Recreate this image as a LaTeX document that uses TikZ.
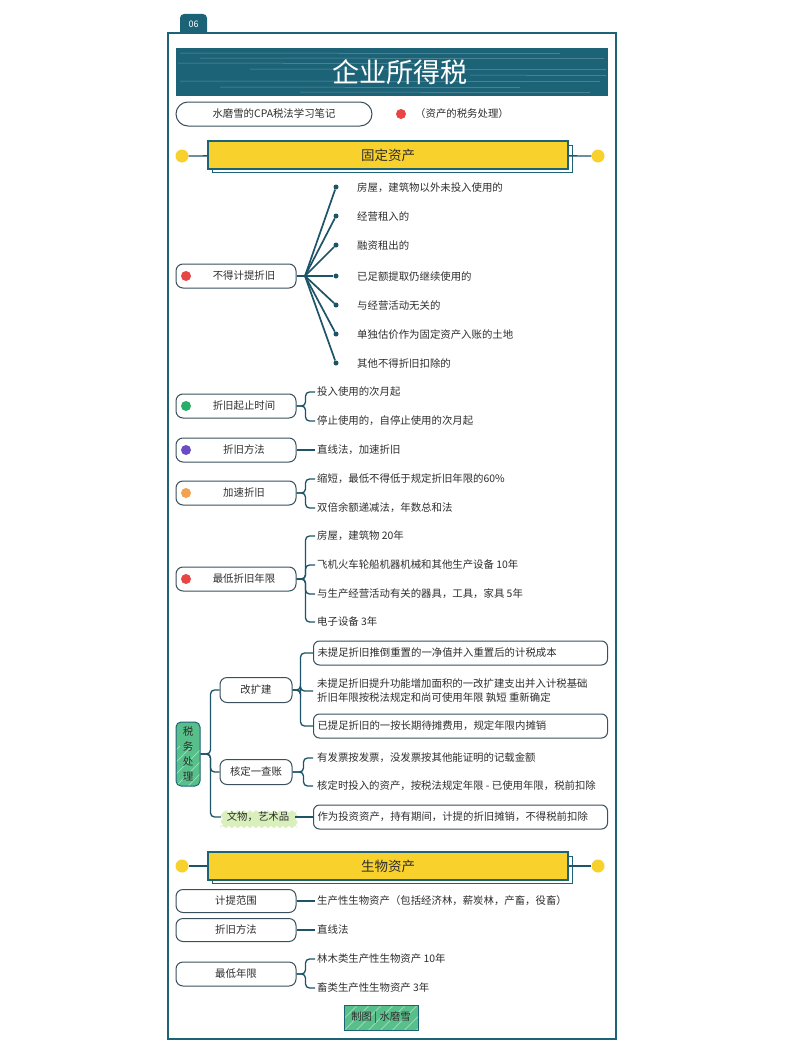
\documentclass[tikz,border=0pt]{standalone}
\usepackage{fontspec}
\setmainfont{Noto Sans CJK SC}
\usetikzlibrary{decorations.pathmorphing}
\definecolor{teal1}{HTML}{1D6377}
\definecolor{conn1}{HTML}{1E5468}
\definecolor{boxl}{HTML}{3A505C}
\definecolor{yellow1}{HTML}{F8D12D}
\definecolor{green1}{HTML}{57C08A}
\definecolor{lgreen}{HTML}{DAF0BC}
\definecolor{red1}{HTML}{E84545}
\definecolor{green2}{HTML}{27AE6A}
\definecolor{purple1}{HTML}{6A4CC4}
\definecolor{orange1}{HTML}{F3A24F}
\definecolor{txt}{HTML}{2E2E2E}
\begin{document}
\begin{tikzpicture}[x=1pt,y=-1pt,
  every node/.style={text=txt, font=\fontsize{10.4}{12}\selectfont},
  box/.style={draw=boxl, line width=1, rounded corners=7, minimum width=120, minimum height=24, inner sep=2},
  sbox/.style={box, minimum width=72, minimum height=25},
  rbox/.style={draw=boxl, line width=1, rounded corners=6, minimum height=24, text width=286, align=left, inner sep=4, anchor=west},
  item/.style={anchor=west, inner sep=2},
  ritem/.style={anchor=west, inner sep=4, align=left},
  conn/.style={draw=conn1, line width=1.3},
  brace/.style={conn, rounded corners=4},
  fan/.style={draw=conn1, line width=1.7},
  fdot/.style={circle, fill=conn1, inner sep=0, minimum size=5},
  cdot/.style={circle, inner sep=0, minimum size=10},
  ydot/.style={circle, fill=yellow1, inner sep=0, minimum size=13},
  sect/.style={fill=yellow1, draw=teal1, line width=1.2, minimum width=360, minimum height=28, font=\fontsize{13.5}{15}\selectfont},
  gbox/.style={fill=green1, draw=teal1, line width=1, path picture={
     \foreach \k in {-60,-48,...,80}{
       \draw[white, opacity=0.45, line width=0.7] ([xshift=\k pt]path picture bounding box.south west) -- ++(40,-40);
     }}}
]
\useasboundingbox[fill=white] (0,0) rectangle (787,1049);

% frame and tab
\fill[teal1] (180,34) {[rounded corners=4] -- (180,14) -- (207,14)} -- (207,34) -- cycle;
\node[text=white, font=\fontsize{9}{10}\selectfont] (tab) at (193.5,24) {06};
\draw[teal1, line width=2] (168,33) rectangle (616,1039);

% title banner
\node[fill=teal1, minimum width=432, minimum height=48, anchor=north west, inner sep=0] (title) at (176,48) {};
\foreach \y/\a/\b in {53/180/560, 58/200/604, 63/178/430, 69/250/606, 75/470/606, 81/180/600, 87/220/520, 92/300/590}{
  \draw[white, opacity=0.3, line width=0.5] (\a,\y) -- (\b,\y+0.6);
}
\node[text=white, font=\fontsize{27}{29}\selectfont] (tt) at (400,72) {企业所得税};

% subtitle
\node[draw=boxl, line width=1, rounded corners=12, minimum width=196, minimum height=24] (sub) at (274,114) {水磨雪的CPA税法学习笔记};
\node[cdot, fill=red1] (sd) at (401,114) {};
\node[item] (subt) at (413,114) {（资产的税务处理）};

% section 1
\draw[teal1, line width=1, fill=white] (212,145) rectangle (572,172);
\node[sect] (s1) at (388,155) {固定资产};
\node[ydot] (s1l) at (182,156) {};
\node[ydot] (s1r) at (598,156) {};
\draw[conn1, line width=1.3] (s1l) -- (s1);
\draw[conn1, line width=1.3] (s1) -- (s1r);

% 不得计提折旧
\node[box] (b1) at (236,276) {\hspace{16pt}不得计提折旧};
\node[cdot, fill=red1] (b1d) at (186,276) {};
\coordinate (f1) at (305,276);
\draw[fan] (b1.east) -- (f1);
\foreach \i/\y/\t in {1/187/房屋，建筑物以外未投入使用的, 2/216/经营租入的, 3/245/融资租出的, 4/276/已足额提取仍继续使用的, 5/305/与经营活动无关的, 6/334/单独估价作为固定资产入账的土地, 7/363/其他不得折旧扣除的}{
  \node[fdot] (d\i) at (336,\y) {};
  \node[item] (t1\i) at (355,\y+1) {\t};
  \draw[fan] (f1) -- (d\i);
}

% 折旧起止时间
\node[box] (b2) at (236,406) {\hspace{16pt}折旧起止时间};
\node[cdot, fill=green2] (b2d) at (186,406) {};
\node[item] (t2a) at (315,392) {投入使用的次月起};
\node[item] (t2b) at (315,421) {停止使用的，自停止使用的次月起};
\draw[brace] (b2.east) -- ++(9,0) |- (t2a.west);
\draw[brace] (b2.east) -- ++(9,0) |- (t2b.west);

% 折旧方法
\node[box] (b3) at (236,450) {\hspace{16pt}折旧方法};
\node[cdot, fill=purple1] (b3d) at (186,450) {};
\node[item] (t3a) at (315,450) {直线法，加速折旧};
\draw[conn] (b3.east) -- (t3a.west);

% 加速折旧
\node[box] (b4) at (236,493) {\hspace{16pt}加速折旧};
\node[cdot, fill=orange1] (b4d) at (186,493) {};
\node[item] (t4a) at (315,479) {缩短，最低不得低于规定折旧年限的60\%};
\node[item] (t4b) at (315,508) {双倍余额递减法，年数总和法};
\draw[brace] (b4.east) -- ++(9,0) |- (t4a.west);
\draw[brace] (b4.east) -- ++(9,0) |- (t4b.west);

% 最低折旧年限
\node[box] (b5) at (236,579) {\hspace{16pt}最低折旧年限};
\node[cdot, fill=red1] (b5d) at (186,579) {};
\node[item] (t5a) at (315,536) {房屋，建筑物 20年};
\node[item] (t5b) at (315,565) {飞机火车轮船机器机械和其他生产设备 10年};
\node[item] (t5c) at (315,594) {与生产经营活动有关的器具，工具，家具 5年};
\node[item] (t5d) at (315,622) {电子设备 3年};
\foreach \t in {t5a,t5b,t5c,t5d}{\draw[brace] (b5.east) -- ++(9,0) |- (\t.west);}

% 税务处理
\node[gbox, rounded corners=5, minimum width=24, minimum height=64, inner sep=0, align=center, font=\fontsize{10.5}{15}\selectfont] (tax) at (188,754) {税\\务\\处\\理};
\node[sbox] (k1) at (256,690) {改扩建};
\node[sbox] (k2) at (256,772) {核定一查账};
\node[fill=lgreen, inner sep=0, minimum width=74, minimum height=20, decorate, decoration={snake, amplitude=1.2, segment length=6}] (k3) at (258,817) {文物，艺术品};
\draw[brace] (tax.east) -- ++(10,0) |- (k1.west);
\draw[brace] (tax.east) -- ++(10,0) |- (k2.west);
\draw[brace] (tax.east) -- ++(10,0) |- (k3.west);

\node[rbox] (r1) at (313,653) {未提足折旧推倒重置的一净值并入重置后的计税成本};
\node[ritem, font=\fontsize{10.4}{14}\selectfont] (r2) at (313,691) {未提足折旧提升功能增加面积的一改扩建支出并入计税基础\\折旧年限按税法规定和尚可使用年限 孰短 重新确定};
\node[rbox] (r3) at (313,726) {已提足折旧的一按长期待摊费用，规定年限内摊销};
\draw[brace] (k1.east) -- ++(8,0) |- (r1.west);
\draw[brace] (k1.east) -- ++(8,0) |- (r2.west);
\draw[brace] (k1.east) -- ++(8,0) |- (r3.west);

\node[ritem] (q1) at (313,758) {有发票按发票，没发票按其他能证明的记载金额};
\node[ritem] (q2) at (313,786) {核定时投入的资产，按税法规定年限 - 已使用年限，税前扣除};
\draw[brace] (k2.east) -- ++(11,0) |- (q1.west);
\draw[brace] (k2.east) -- ++(11,0) |- (q2.west);

\node[rbox] (w1) at (313,817) {作为投资资产，持有期间，计提的折旧摊销，不得税前扣除};
\draw[conn] (k3.east) -- (w1.west);

% section 2
\draw[teal1, line width=1, fill=white] (212,856) rectangle (572,883);
\node[sect] (s2) at (388,866) {生物资产};
\node[ydot] (s2l) at (182,866) {};
\node[ydot] (s2r) at (598,866) {};
\draw[conn1, line width=1.3] (s2l) -- (s2);
\draw[conn1, line width=1.3] (s2) -- (s2r);

\node[box, minimum height=23] (c1) at (236,901) {计提范围};
\node[item] (u1) at (315,901) {生产性生物资产（包括经济林，薪炭林，产畜，役畜）};
\draw[conn] (c1.east) -- (u1.west);

\node[box, minimum height=23] (c2) at (236,930) {折旧方法};
\node[item] (u2) at (315,930) {直线法};
\draw[conn] (c2.east) -- (u2.west);

\node[box] (c3) at (236,974) {最低年限};
\node[item] (u3a) at (315,959) {林木类生产性生物资产 10年};
\node[item] (u3b) at (315,988) {畜类生产性生物资产 3年};
\draw[brace] (c3.east) -- ++(9,0) |- (u3a.west);
\draw[brace] (c3.east) -- ++(9,0) |- (u3b.west);

% footer
\node[gbox, minimum width=74, minimum height=25, inner sep=0] (foot) at (381,1018) {制图 | 水磨雪};
\end{tikzpicture}
\end{document}
